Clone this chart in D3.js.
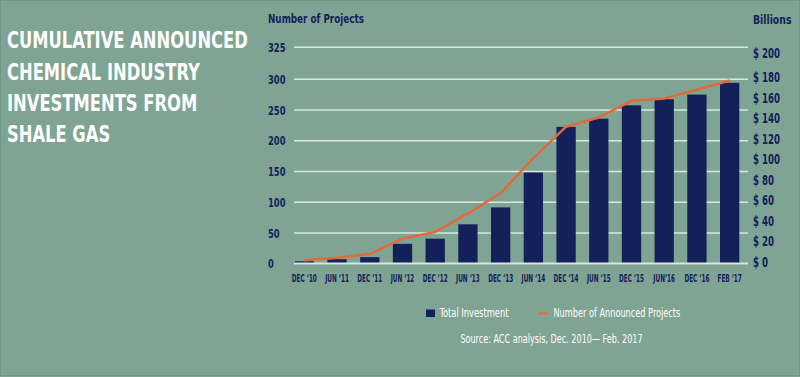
<!DOCTYPE html>
<html><head><meta charset="utf-8">
<script src="https://cdn.jsdelivr.net/npm/d3@7/dist/d3.min.js"></script>
<style>
html,body{margin:0;padding:0;background:#80a494;}
svg{display:block;}
.cond{font-family:"Liberation Sans Narrow","DejaVu Sans Condensed","Roboto Condensed",sans-serif;font-stretch:condensed;font-weight:bold;}
</style></head>
<body>
<svg id="chart" width="800" height="377"></svg>
<script>
const categories = ["DEC \u201810","JUN \u201811","DEC \u201811","JUN \u201812","DEC \u201812","JUN \u201813","DEC \u201813","JUN \u201814","DEC \u201814","JUN \u201815","DEC \u201815","JUN\u201816","DEC \u201816","FEB \u201817"];
const investment = [2,4,6,19,24,38,54.5,88.5,133,141,154,160,164.5,176];   // $ billions (bars)
const projects = [5,9,15,40,51,81,114,171,222,237,264,268,282,297];       // number of projects (line)
const leftTicks = [0,50,100,150,200,250,300,325];
const rightTicks = [0,20,40,60,80,100,120,140,160,180,200];
const titleLines = ["CUMULATIVE ANNOUNCED","CHEMICAL INDUSTRY","INVESTMENTS FROM","SHALE GAS"];

const navy = "#13205a", orange = "#e2693a", bg = "#80a494", grid = "#d8e8df";
const svg = d3.select("#chart");
svg.append("rect").attr("x",0.5).attr("y",0.5).attr("width",799).attr("height",375)
  .attr("fill",bg).attr("stroke","#71968a").attr("stroke-width",1);

// horizontally condense texts by factor k around their own x anchor
function squeezeBy(sel, k){
  sel.each(function(){
    const X = +(this.getAttribute("x") || 0);
    d3.select(this).attr("transform",`translate(${X},0) scale(${k},1) translate(${-X},0)`);
  });
}
function factorFor(node, target){ return target / node.getComputedTextLength(); }

const plotL = 294, plotR = 748, y0 = 263.3;
const x = d3.scaleBand().domain(categories).range([288,746]).paddingInner(0.41).paddingOuter(0.205);
const yLeft = d3.scaleLinear().domain([0,300,325]).range([y0,78.7,46.7]);
const yRight = d3.scaleLinear().domain([0,180,200]).range([y0,78.7,54]);

// Title
const tg = svg.append("g").attr("class","cond");
titleLines.forEach((t,i)=>{
  tg.append("text").attr("x",7).attr("y",48.3+i*31.4).attr("fill","#ffffff")
    .style("font-size","23px").text(t);
});
squeezeBy(tg.selectAll("text"), factorFor(tg.select("text").node(), 241));

// Left axis with gridlines
const gl = svg.append("g").attr("transform",`translate(${plotL},0)`)
  .call(d3.axisLeft(yLeft).tickValues(leftTicks).tickSize(-(plotR-plotL)).tickFormat(d3.format("d")));
gl.select(".domain").remove();
gl.selectAll(".tick line").attr("stroke",grid).attr("stroke-width",1.5);
const lt = gl.selectAll(".tick text").attr("x",268-plotL).attr("text-anchor","start").attr("fill",navy)
  .attr("class","cond").style("font-size","13px").attr("dy","0.36em");
squeezeBy(lt, factorFor(lt.filter(d=>d===325).node(), 17.5));

// Right axis
const gr = svg.append("g").attr("transform","translate(753,0)")
  .call(d3.axisRight(yRight).tickValues(rightTicks).tickSize(0).tickPadding(0).tickFormat(d=>"$ "+d));
gr.select(".domain").remove();
const rt = gr.selectAll(".tick text").attr("x",0).attr("fill",navy).attr("class","cond").style("font-size","14px").attr("dy","0.22em");
squeezeBy(rt, factorFor(rt.filter(d=>d===200).node(), 27));

// Axis titles
const t1 = svg.append("text").attr("class","cond").attr("x",268).attr("y",23).attr("fill",navy)
  .style("font-size","12.5px").text("Number of Projects");
squeezeBy(t1, factorFor(t1.node(), 96));
const t2 = svg.append("text").attr("class","cond").attr("x",753).attr("y",24).attr("fill",navy)
  .style("font-size","12.5px").text("Billions");
squeezeBy(t2, factorFor(t2.node(), 38.5));

// Bars
svg.append("g").selectAll("rect").data(categories).join("rect")
  .attr("x",d=>x(d)).attr("width",x.bandwidth())
  .attr("y",(d,i)=>yRight(investment[i])).attr("height",(d,i)=>y0-yRight(investment[i]))
  .attr("fill",navy);

// Baseline
svg.append("line").attr("x1",plotL).attr("x2",plotR).attr("y1",y0).attr("y2",y0)
  .attr("stroke",grid).attr("stroke-width",1.5);

// Line
const line = d3.line().x((d,i)=>x(categories[i])+x.bandwidth()/2).y(d=>yLeft(d));
svg.append("path").datum(projects).attr("d",line).attr("fill","none")
  .attr("stroke",orange).attr("stroke-width",2.5).attr("stroke-linejoin","round");

// X axis
const gx = svg.append("g").attr("transform",`translate(0,${y0})`)
  .call(d3.axisBottom(x).tickSize(0).tickPadding(12));
gx.select(".domain").remove();
const xt = gx.selectAll(".tick text").attr("x",0).attr("fill",navy).attr("class","cond").style("font-size","10px");
squeezeBy(xt, factorFor(xt.node(), 25));

// Legend
svg.append("rect").attr("x",426).attr("y",309.5).attr("width",9).attr("height",7.5).attr("fill",navy);
const l1 = svg.append("text").attr("class","cond").attr("x",439.5).attr("y",317).attr("fill","#ffffff")
  .style("font-size","12.5px").style("font-weight","normal").text("Total Investment");
squeezeBy(l1, factorFor(l1.node(), 69));
svg.append("line").attr("x1",538.5).attr("x2",548.5).attr("y1",313.5).attr("y2",313.5)
  .attr("stroke",orange).attr("stroke-width",2);
const l2 = svg.append("text").attr("class","cond").attr("x",553.5).attr("y",317).attr("fill","#ffffff")
  .style("font-size","12.5px").style("font-weight","normal").text("Number of Announced Projects");
squeezeBy(l2, factorFor(l2.node(), 127));

// Source
const src = svg.append("text").attr("class","cond").attr("x",551.5).attr("y",343.5).attr("text-anchor","middle")
  .attr("fill","#ffffff").style("font-size","12.5px").style("font-weight","normal")
  .text("Source: ACC analysis, Dec. 2010\u2014 Feb. 2017");
squeezeBy(src, factorFor(src.node(), 182.5));
</script>
</body></html>
